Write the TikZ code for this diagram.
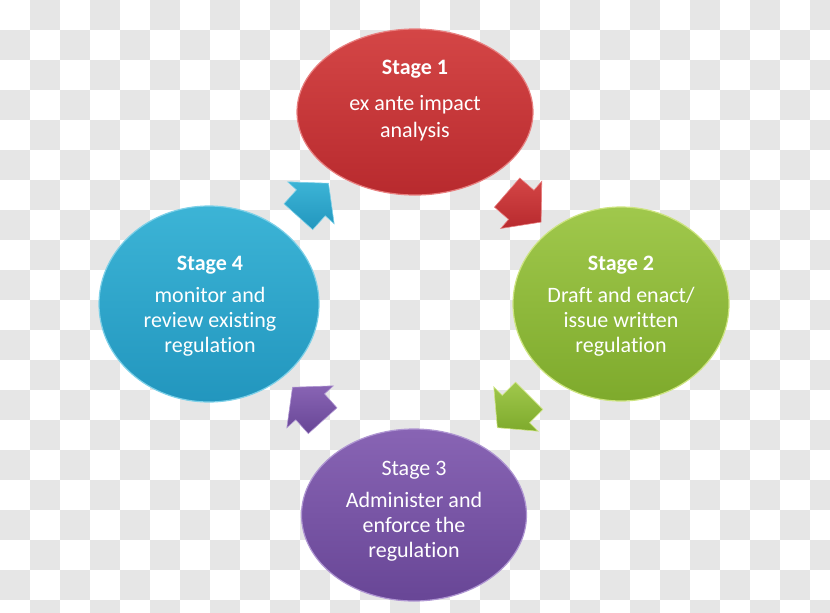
\documentclass[tikz,border=0pt]{standalone}
\usepackage{fontspec}
\setmainfont{Carlito}[Ligatures=NoCommon]
\usetikzlibrary{shapes.geometric, shapes.arrows}

\definecolor{checkgray}{RGB}{230,230,230}
\definecolor{redtop}{RGB}{212,70,70}
\definecolor{redbot}{RGB}{184,42,46}
\definecolor{redrim}{RGB}{232,128,128}
\definecolor{greentop}{RGB}{160,200,76}
\definecolor{greenbot}{RGB}{126,170,44}
\definecolor{greenrim}{RGB}{205,228,128}
\definecolor{purpletop}{RGB}{136,100,180}
\definecolor{purplebot}{RGB}{104,70,150}
\definecolor{purplerim}{RGB}{175,150,210}
\definecolor{cyantop}{RGB}{60,180,214}
\definecolor{cyanbot}{RGB}{34,150,190}
\definecolor{cyanrim}{RGB}{125,208,232}

\begin{document}
\begin{tikzpicture}[x=1pt, y=-1pt,
  stage/.style={ellipse, inner sep=0pt, line width=1.2pt},
  stagetext/.style={align=center, text=white, font=\fontsize{22}{25}\selectfont},
  cyclearrow/.style={single arrow, minimum height=45pt, minimum width=62pt, inner xsep=0pt, inner ysep=19pt, single arrow head extend=12pt, single arrow tip angle=100},
  redfill/.style={top color=redtop, bottom color=redbot, draw=redrim},
  greenfill/.style={top color=greentop, bottom color=greenbot, draw=greenrim},
  purplefill/.style={top color=purpletop, bottom color=purplebot, draw=purplerim},
  cyanfill/.style={top color=cyantop, bottom color=cyanbot, draw=cyanrim}]
  \useasboundingbox (0,0) rectangle (830,613);

  % transparent background checks
  \begin{scope}
    \clip (0,0) rectangle (830,613);
    \foreach \i in {1,3,...,27}
      \foreach \j in {0,2,...,20}
        \fill[checkgray] (\i*30,\j*30) rectangle +(30,30);
    \foreach \i in {0,2,...,26}
      \foreach \j in {1,3,...,19}
        \fill[checkgray] (\i*30,\j*30) rectangle +(30,30);
  \end{scope}

  % stages
  \node (st1) at (415,112) [stage, redfill, minimum width=236pt, minimum height=166pt] {};
  \node (st2) at (621,304) [stage, greenfill, minimum width=216pt, minimum height=194pt] {};
  \node (st3) at (414,515) [stage, purplefill, minimum width=225pt, minimum height=172pt] {};
  \node (st4) at (209,304) [stage, cyanfill, minimum width=220pt, minimum height=196pt] {};

  \node (tx1) at (415,101) [stagetext, font=\fontsize{22}{27}\selectfont] {\textbf{Stage 1}\\[9pt] ex ante impact\\ analysis};
  \node (tx2) at (621,306) [stagetext] {\textbf{Stage 2}\\[7.5pt] Draft and enact/\\ issue written\\ regulation};
  \node (tx3) at (414,511) [stagetext] {Stage 3\\[7.5pt] Administer and\\ enforce the\\ regulation};
  \node (tx4) at (210,306) [stagetext] {\textbf{Stage 4}\\[7.5pt] monitor and\\ review existing\\ regulation};

  % arrows between the stages
  \node (ar12) at (518,202) [cyclearrow, redfill, line width=0.6pt, rotate=-41] {};
  \node (ar23) at (519,406) [cyclearrow, greenfill, line width=0.6pt, rotate=-135] {};
  \node (ar34) at (313,410) [cyclearrow, purplefill, line width=0.6pt, rotate=132] {};
  \node (ar41) at (308,206) [cyclearrow, cyanfill, line width=0.6pt, rotate=48] {};
\end{tikzpicture}
\end{document}
